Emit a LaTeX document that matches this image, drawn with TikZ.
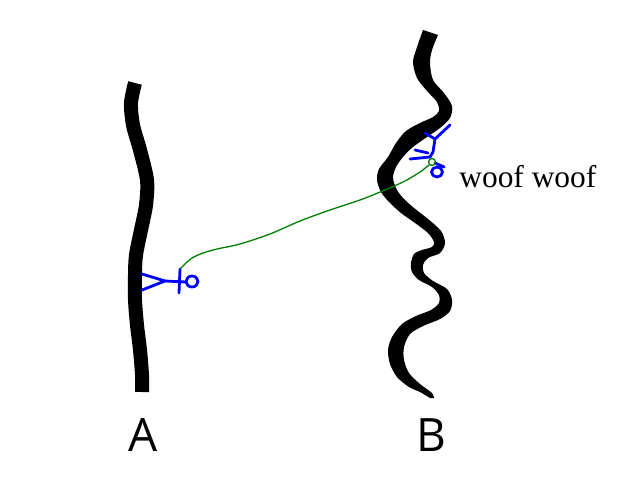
\documentclass[tikz,border=0pt]{standalone}
\usepackage{fontspec}
\setmainfont{Liberation Serif}
\newfontfamily\labelfont{Open Sans}
\usetikzlibrary{positioning,calc}

\begin{document}
\begin{tikzpicture}[x=0.5pt,y=-0.5pt,
        strand/.style={line width=7pt},
        knot/.style={draw=blue,line width=1.4pt,line cap=round,line join=round},
        thread/.style={draw=green!50!black,line width=0.65pt},
        letter/.style={font=\labelfont\fontsize{23}{27}\selectfont}]
    \useasboundingbox (0,0) rectangle (640,480);

    \coordinate (tieA) at (180,269);  % 线的起点
    \coordinate (tieB) at (429,165);  % 线的终点

    % 绳A
    \draw[strand] plot[smooth] coordinates {(135,83) (131,103) (133,125) (140,150) (147,180) (146,205) (141,230) (136,255) (135,275) (135,300) (137,325) (140,350) (142,375) (142,392)};
    % 绳B
    \fill plot[smooth] coordinates {(423,30) (417,47) (413,62) (417,78) (427,91) (437,102) (439,111) (433,117) (420,123) (406,131) (396,143) (388,157) (379,169) (377,180) (381,192) (389,202) (401,213) (415,223) (428,233) (434,242) (432,247) (422,250) (414,254) (411,263) (412,272) (419,280) (432,287) (439,295) (439,303) (431,310) (416,316) (402,324) (392,337) (388,350) (390,364) (397,377) (409,387) (420,392) (430,398)}
        -- plot[smooth] coordinates {(434,398) (432,393) (420,384) (409,373) (404,360) (404,347) (410,334) (423,326) (440,319) (450,311) (452,300) (447,289) (433,281) (424,273) (423,265) (428,258) (440,253) (445,243) (441,231) (428,219) (414,208) (404,199) (397,190) (393,178) (396,167) (403,157) (413,147) (427,137) (440,128) (450,118) (452,106) (444,93) (433,80) (430,63) (432,50) (438,35)} -- cycle;

    % A上的结
    \draw[knot] (142,274) -- (165,281) -- (142,290);
    \draw[knot] (165,281) -- (186,282);
    \draw[knot] (tieA) -- (179,293);
    \draw[knot] (192,281.5) ellipse (6 and 5.5);

    % B上的结
    \draw[knot] (450,125) -- (435,139) -- (433,152) -- (430,157);
    \draw[knot] (425,133) -- (435,139);
    \draw[knot] (415,150) -- (428,153);
    \draw[knot] (410,159) -- (430,157);
    \draw[knot] (435,163) -- (444,167);
    \draw[knot] (437,172) ellipse (5.5 and 5);

    % 线
    \draw[thread] plot[smooth] coordinates {(tieA) (185,264) (192,258) (203,253) (217,249) (240,244) (270,234) (300,221) (330,210) (360,200) (385,190) (405,181) (420,172) (tieB)};
    \draw[thread] (432,162) circle (3.5);

    \node[letter] (labA) at (143,435) {A};
    \node[letter] (labB) at (431,435) {B};
    \node[anchor=base west,inner sep=0pt,font=\fontsize{15.7}{19}\selectfont] (woof) at (459,188) {woof woof};
\end{tikzpicture}
\end{document}
